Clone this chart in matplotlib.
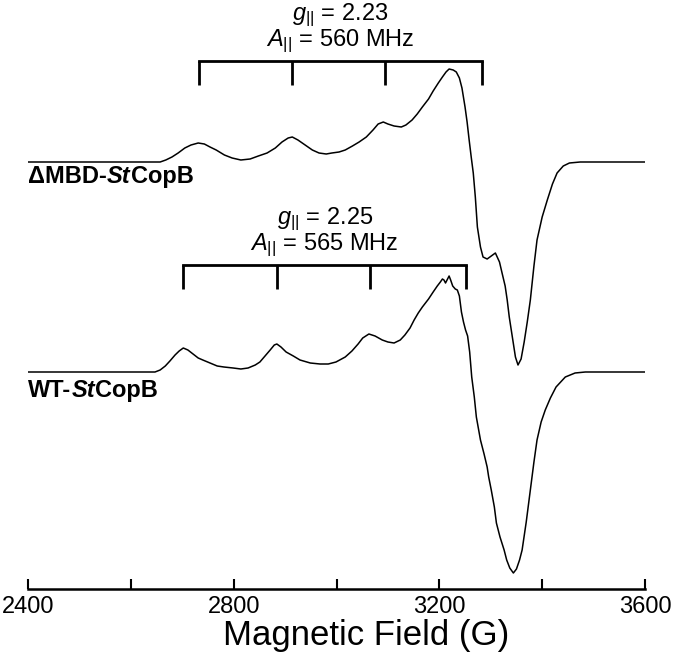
import matplotlib
matplotlib.use('Agg')
import matplotlib.pyplot as plt
from matplotlib.ticker import MultipleLocator

plt.rcParams['font.family'] = 'Liberation Sans'
plt.rcParams['mathtext.fontset'] = 'custom'
plt.rcParams['mathtext.rm'] = 'Liberation Sans'
plt.rcParams['mathtext.it'] = 'Liberation Sans:italic'
plt.rcParams['mathtext.bf'] = 'Liberation Sans:bold'

# EPR spectra (field in G, signal in arbitrary units)
dmbd_field = [2400, 2540, 2657, 2668, 2680, 2692, 2705, 2717, 2731, 2743, 2754,
              2766, 2782, 2797, 2814, 2832, 2848, 2865, 2881, 2894, 2906, 2914,
              2925, 2939, 2953, 2966, 2980, 2991, 3005, 3017, 3031, 3044, 3058,
              3071, 3081, 3091, 3100, 3112, 3126, 3135, 3147, 3157, 3167, 3179,
              3188, 3198, 3206, 3213, 3219, 3227, 3233, 3239, 3244, 3250, 3254,
              3258, 3262, 3266, 3270, 3274, 3280, 3285, 3293, 3301, 3309, 3317,
              3322, 3328, 3332, 3336, 3342, 3348, 3353, 3359, 3365, 3371, 3377,
              3384, 3390, 3400, 3410, 3420, 3429, 3441, 3453, 3474, 3600]
dmbd_signal = [0, 0, 0, 2, 5, 9, 14, 17, 19, 18, 15,
               12, 7, 4, 2, 3, 6, 9, 14, 20, 24, 25,
               22, 17, 12, 9, 8, 9, 10, 12, 16, 20, 25,
               32, 38, 40, 38, 36, 35, 37, 42, 48, 55, 63,
               71, 79, 85, 90, 93, 92, 90, 84, 74, 55, 40,
               22, 5, -11, -35, -65, -85, -95, -97, -94, -91, -100,
               -111, -124, -138, -155, -175, -195, -203, -197, -180, -160, -138,
               -104, -78, -55, -38, -22, -11, -4, -1, 0, 0]

wt_field = [2400, 2647, 2657, 2667, 2676, 2686, 2694, 2702, 2711, 2721, 2731,
            2740, 2754, 2768, 2781, 2799, 2814, 2828, 2842, 2851, 2861, 2871,
            2879, 2884, 2892, 2902, 2916, 2929, 2949, 2968, 2984, 2999, 3017,
            3030, 3042, 3051, 3063, 3075, 3089, 3100, 3112, 3124, 3133, 3143,
            3151, 3159, 3167, 3179, 3188, 3196, 3202, 3206, 3209, 3212, 3215,
            3219, 3222, 3226, 3231, 3235, 3239, 3243, 3247, 3251, 3255, 3259,
            3263, 3268, 3272, 3280, 3287, 3293, 3296, 3301, 3307, 3311, 3318,
            3326, 3331, 3337, 3344, 3350, 3356, 3361, 3369, 3377, 3384, 3390,
            3398, 3406, 3416, 3427, 3445, 3464, 3484, 3600]
wt_signal = [0, 0, 2, 6, 11, 17, 21, 24, 22, 18, 14,
             12, 9, 6, 5, 4, 3, 4, 7, 10, 16, 22,
             27, 28, 25, 20, 16, 12, 9, 8, 8, 10, 15,
             21, 28, 34, 38, 36, 32, 30, 29, 32, 37, 44,
             52, 59, 65, 73, 80, 86, 90, 93, 92, 89, 92,
             96, 92, 86, 83, 82, 76, 60, 50, 42, 36, 20,
             -5, -25, -45, -68, -82, -95, -105, -118, -135, -151, -165,
             -178, -188, -196, -201, -197, -188, -178, -150, -118, -90, -68,
             -50, -38, -26, -15, -5, -1, 0, 0]

dmbd_offset = 427
wt_offset = 217

# hyperfine stick positions (G)
dmbd_lines = [2733, 2914, 3095, 3283]
wt_lines = [2702, 2884, 3065, 3252]

fig = plt.figure(figsize=(6.77, 6.57), dpi=100)
ax = fig.add_axes([28 / 677, 68 / 657, (645 - 28) / 677, 589 / 657])

ax.plot(dmbd_field, [s + dmbd_offset for s in dmbd_signal], color='black', lw=1.1)
ax.plot(wt_field, [s + wt_offset for s in wt_signal], color='black', lw=1.1)


def bracket(lines, y_top, g_txt, a_txt):
    ax.plot([lines[0], lines[-1]], [y_top, y_top], color='black', lw=2.0,
            solid_capstyle='projecting')
    for x in lines:
        ax.plot([x, x], [y_top, y_top - 24], color='black', lw=2.0,
                solid_capstyle='butt')
    mid = (lines[0] + lines[-1]) / 2
    ax.text(mid, y_top + 15, a_txt, ha='center', va='baseline', fontsize=17)
    ax.text(mid, y_top + 41, g_txt, ha='center', va='baseline', fontsize=17)


bracket(dmbd_lines, 528, r'$g_{||}$ = 2.23', r'$A_{||}$ = 560 MHz')
bracket(wt_lines, 324, r'$g_{||}$ = 2.25', r'$A_{||}$ = 565 MHz')


def sample_label(y, parts):
    t = ax.text(2400, y, parts[0][0], fontsize=17, fontweight='bold',
                style=parts[0][1], va='baseline', ha='left')
    for txt, st in parts[1:]:
        t = ax.annotate(txt, xy=(1, 0), xycoords=t, va='bottom', ha='left',
                        fontsize=17, fontweight='bold', style=st)


sample_label(406, [('\u0394MBD-', 'normal'), ('St', 'italic'), ('CopB', 'normal')])
sample_label(192, [('WT-', 'normal'), ('St', 'italic'), ('CopB', 'normal')])

ax.set_xlim(2400, 3600)
ax.set_ylim(0, 589)
ax.xaxis.set_major_locator(MultipleLocator(400))
ax.xaxis.set_minor_locator(MultipleLocator(200))
ax.tick_params(axis='x', which='both', direction='in', length=7, width=1.5,
               labelsize=17, pad=5)
ax.set_yticks([])
for side in ['left', 'top', 'right']:
    ax.spines[side].set_visible(False)
ax.spines['bottom'].set_linewidth(1.8)
ax.set_xlabel('Magnetic Field (G)', fontsize=25, labelpad=1)
ax.xaxis.label.set_x((366 - 28) / 617)

fig.savefig('out.png', dpi=100)
